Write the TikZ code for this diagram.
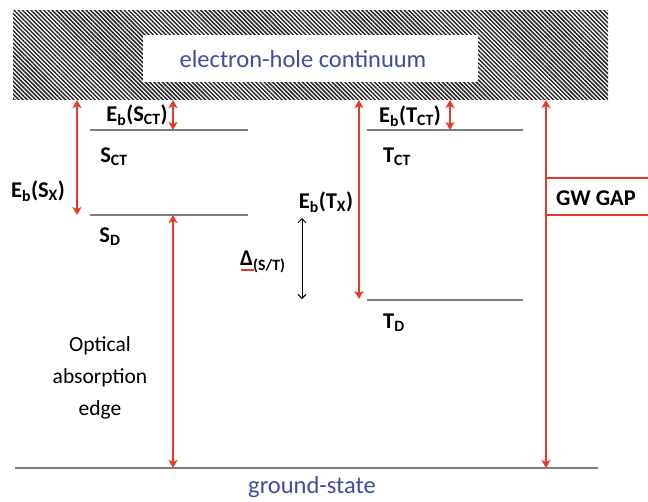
\documentclass[tikz,border=0pt]{standalone}
\usepackage{fontspec}
\setmainfont{Carlito}
\usepackage{tikz}
\usetikzlibrary{arrows.meta,patterns.meta}
\definecolor{gap}{HTML}{E5392A}
\definecolor{level}{HTML}{7F7F7F}
\definecolor{continuum}{HTML}{3F4C9F}
\newcommand{\Eb}[1]{E\textsubscript{b}(#1)}

\tikzset{
  gaparrow/.style={<->, line width=1.8pt, gap},
  levelline/.style={line width=1.4pt, level},
  statelabel/.style={font=\fontsize{22.5}{24}\selectfont\bfseries},
  bluelabel/.style={font=\fontsize{24.5}{26}\selectfont, text=continuum},
}

\begin{document}
\begin{tikzpicture}[x=1pt, y=-1pt, >={Stealth[length=8pt,width=9pt,inset=2pt]}]
  \useasboundingbox (0,0) rectangle (648,501);
  % Continuum
  \fill[pattern={Lines[angle=-45,distance=3pt,line width=1.5pt]}, pattern color=black!85]
    (13,10) rectangle (608,99);
  \fill[white] (143,35) rectangle (478,82);
  \node[bluelabel] (cont) at (303,59) {electron-hole continuum};
  % Levels
  \coordinate (sct a) at (90,130);  \coordinate (sct b) at (248,130);
  \coordinate (sd a) at (90,215);   \coordinate (sd b) at (248,215);
  \coordinate (tct a) at (367,130); \coordinate (tct b) at (523,130);
  \coordinate (td a) at (367,300);  \coordinate (td b) at (523,300);
  \coordinate (gs a) at (15,468);   \coordinate (gs b) at (598,468);
  \draw[levelline] (sct a) -- (sct b);
  \draw[levelline] (sd a) -- (sd b);
  \draw[levelline] (tct a) -- (tct b);
  \draw[levelline] (td a) -- (td b);
  \draw[levelline] (gs a) -- (gs b);
  % Gaps
  \coordinate (sx top) at (77,100);  \coordinate (sx bot) at (77,215);
  \coordinate (sct top) at (173,100); \coordinate (sct bot) at (173,130);
  \coordinate (opt top) at (173,215); \coordinate (opt bot) at (173,468);
  \coordinate (tx top) at (359,100);  \coordinate (tx bot) at (359,299);
  \coordinate (tct top) at (450,100); \coordinate (tct bot) at (450,130);
  \coordinate (gw top) at (546,100);  \coordinate (gw bot) at (546,468);
  \coordinate (st top) at (302,218);  \coordinate (st bot) at (302,299);
  \draw[gaparrow] (sx top) -- (sx bot);
  \draw[gaparrow] (sct top) -- (sct bot);
  \draw[gaparrow] (opt top) -- (opt bot);
  \draw[gaparrow] (tx top) -- (tx bot);
  \draw[gaparrow] (tct top) -- (tct bot);
  \draw[gaparrow] (gw top) -- (gw bot);
  \draw[{Straight Barb[length=4pt,width=8pt]}-{Straight Barb[length=4pt,width=8pt]}, line width=0.9pt]
    (st top) -- (st bot);
  % GW box
  \coordinate (gw box a) at (546,178); \coordinate (gw box b) at (648,178);
  \coordinate (gw box c) at (546,215); \coordinate (gw box d) at (648,215);
  \draw[gap, line width=1.2pt] (gw box a) -- (gw box b);
  \draw[gap, line width=1.2pt] (gw box c) -- (gw box d);
  % Labels
  \node[statelabel] (eb sct) at (137,115) {\Eb{S\textsubscript{CT}}};
  \node[statelabel] (lab sct) at (114,157) {S\textsubscript{CT}};
  \node[statelabel] (eb sx) at (38,191) {\Eb{S\textsubscript{X}}};
  \node[statelabel] (lab sd) at (110,237) {S\textsubscript{D}};
  \node[font=\fontsize{21.5}{32}\selectfont, align=center] (opt) at (100,378)
    {Optical\\absorption\\edge};
  \node[statelabel, anchor=west, inner sep=0pt] (delta) at (240,262)
    {Δ\textsubscript{(S/T)}};
  \coordinate (ul a) at (241,270); \coordinate (ul b) at (254,270);
  \draw[gap, line width=1.2pt] (ul a) -- (ul b);
  \node[statelabel] (eb tx) at (326,202) {\Eb{T\textsubscript{X}}};
  \node[statelabel] (eb tct) at (410,116) {\Eb{T\textsubscript{CT}}};
  \node[statelabel] (lab tct) at (397,157) {T\textsubscript{CT}};
  \node[statelabel] (lab td) at (394,323) {T\textsubscript{D}};
  \node[statelabel] (gw) at (596,198) {GW GAP};
  \node[bluelabel, inner sep=0pt] (gs) at (312,487) {ground-state};
\end{tikzpicture}
\end{document}
